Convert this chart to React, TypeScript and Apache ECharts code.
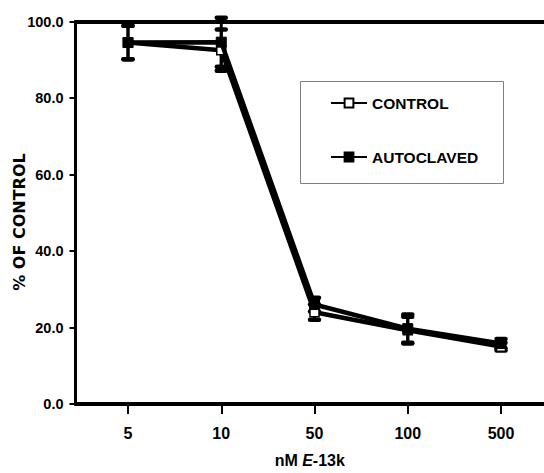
import React, { useEffect, useRef } from "react";
import * as echarts from "echarts";

const categories = ["5", "10", "50", "100", "500"];
const controlValues = [94.5, 92.5, 24.0, 19.3, 15.0];
const controlErrors = [4.4, 5.4, 2.0, 3.5, 1.0];
const autoclavedValues = [94.5, 94.6, 26.0, 19.7, 15.8];
const autoclavedErrors = [4.4, 6.4, 1.8, 3.7, 1.2];
const yTicks = [0, 20, 40, 60, 80, 100];

const FONT = "'Liberation Sans', Arial, Helvetica, sans-serif";

export default function App() {
  const ref = useRef<HTMLDivElement>(null);

  useEffect(() => {
    if (!ref.current) return;
    const chart = echarts.init(ref.current, null, { renderer: "svg" });

    const xIdx = categories.map((_, i) => i);
    const errData = (vals: number[], errs: number[]) =>
      vals.map((v, i) => [i, v - errs[i], v + errs[i]]);

    const renderErr = (params: any, api: any) => {
      const x = api.value(0);
      const lo = api.coord([x, api.value(1)]);
      const hi = api.coord([x, api.value(2)]);
      const cw = 4.5;
      const st = { stroke: "#000", lineWidth: 3 };
      const cap = { stroke: "#000", lineWidth: 4.5, lineCap: "round" };
      return {
        type: "group",
        children: [
          { type: "line", shape: { x1: hi[0], y1: hi[1], x2: lo[0], y2: lo[1] }, style: st },
          { type: "line", shape: { x1: hi[0] - cw, y1: hi[1], x2: hi[0] + cw, y2: hi[1] }, style: cap },
          { type: "line", shape: { x1: lo[0] - cw, y1: lo[1], x2: lo[0] + cw, y2: lo[1] }, style: cap },
        ],
      };
    };

    const xMin = -0.563;
    const xMax = 4.461;

    chart.setOption({
      animation: false,
      backgroundColor: "#fff",
      grid: { left: 75.5, right: 0, top: 21.5, bottom: 66, containLabel: false },
      xAxis: [
        {
          type: "value",
          min: xMin,
          max: xMax,
          position: "bottom",
          name: "nM {i|E}-13k",
          nameLocation: "middle",
          nameGap: 48,
          nameTextStyle: {
            color: "#000",
            fontFamily: FONT,
            fontWeight: "bold",
            fontSize: 16,
            rich: {
              i: { fontFamily: FONT, fontWeight: "bold", fontStyle: "italic", fontSize: 16, color: "#000" },
            },
          },
          axisLine: { show: true, onZero: false, lineStyle: { color: "#000", width: 4 } },
          axisTick: { show: true, customValues: xIdx, length: 10, lineStyle: { color: "#000", width: 2 } },
          axisLabel: {
            show: true,
            customValues: xIdx,
            margin: 21,
            color: "#000",
            fontFamily: FONT,
            fontWeight: "bold",
            fontSize: 16,
            formatter: (v: number) => categories[Math.round(v)] ?? "",
          },
          splitLine: { show: false },
        },
        {
          type: "value",
          min: xMin,
          max: xMax,
          position: "top",
          axisLine: { show: true, onZero: false, lineStyle: { color: "#000", width: 4 } },
          axisTick: { show: false },
          axisLabel: { show: false },
          splitLine: { show: false },
        },
      ],
      yAxis: {
        type: "value",
        min: 0,
        max: 100,
        interval: 20,
        position: "left",
        axisLine: { show: true, onZero: false, lineStyle: { color: "#000", width: 3 } },
        axisTick: { show: true, length: 6, lineStyle: { color: "#000", width: 2 } },
        axisLabel: {
          margin: 12,
          color: "#000",
          fontFamily: FONT,
          fontWeight: "bold",
          fontSize: 14.5,
          formatter: (v: number) => (yTicks.includes(v) ? v.toFixed(1) : ""),
        },
        splitLine: { show: false },
      },
      legend: {
        data: ["CONTROL", "AUTOCLAVED"],
        orient: "vertical",
        left: 330,
        top: 95,
        itemWidth: 36,
        itemHeight: 11,
        itemGap: 38,
        padding: 0,
        textStyle: { color: "#000", fontFamily: FONT, fontWeight: "bold", fontSize: 15.5 },
      },
      graphic: [
        {
          type: "rect",
          shape: { x: 300.5, y: 81.5, width: 203, height: 102 },
          style: { fill: "none", stroke: "#7f7f7f", lineWidth: 1 },
          z: -1,
        },
        {
          type: "text",
          x: 19,
          y: 222,
          rotation: Math.PI / 2,
          style: {
            text: "% OF CONTROL",
            align: "center",
            verticalAlign: "middle",
            fill: "#000",
            font: "bold 16px 'DejaVu Sans', sans-serif",
          },
        },
      ],
      series: [
        {
          type: "custom",
          name: "CONTROL err",
          renderItem: renderErr,
          data: errData(controlValues, controlErrors),
          encode: { x: 0, y: [1, 2] },
          clip: false,
          z: 2,
        },
        {
          type: "custom",
          name: "AUTOCLAVED err",
          renderItem: renderErr,
          data: errData(autoclavedValues, autoclavedErrors),
          encode: { x: 0, y: [1, 2] },
          clip: false,
          z: 2,
        },
        {
          type: "line",
          name: "CONTROL",
          data: controlValues.map((v, i) => [i, v]),
          symbol: "rect",
          symbolSize: 9,
          lineStyle: { color: "#000", width: 4.5 },
          itemStyle: { color: "#fff", borderColor: "#000", borderWidth: 1.5 },
          z: 3,
        },
        {
          type: "line",
          name: "AUTOCLAVED",
          data: autoclavedValues.map((v, i) => [i, v]),
          symbol: "rect",
          symbolSize: 10,
          lineStyle: { color: "#000", width: 4.5 },
          itemStyle: { color: "#000", borderColor: "#000", borderWidth: 1 },
          z: 4,
        },
      ],
    });

    return () => chart.dispose();
  }, []);

  return (
    <div
      ref={ref}
      style={{ position: "fixed", left: 0, top: 0, width: 544, height: 473, background: "#fff" }}
    />
  );
}
